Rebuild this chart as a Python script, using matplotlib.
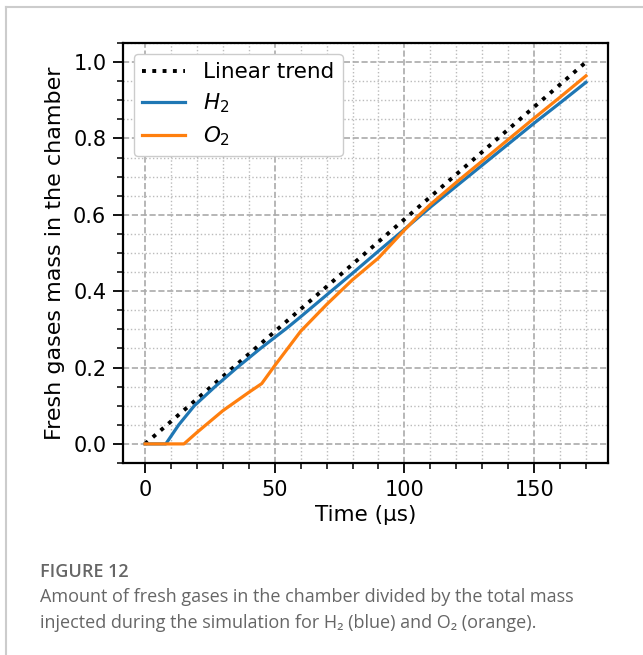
import numpy as np
import matplotlib
matplotlib.use('Agg')
import matplotlib.pyplot as plt
from matplotlib.ticker import MultipleLocator
from matplotlib.lines import Line2D

# values
trend_t = [0, 170]
trend_m = [0.0, 1.0]

h2_t = [0, 8, 13, 19, 27, 35.5, 44.5, 55, 60, 70, 80, 90, 100, 110, 120, 130, 140, 150, 160, 170]
h2_m = [0.0, 0.0, 0.05, 0.1, 0.15, 0.2, 0.25, 0.305, 0.333, 0.39, 0.447, 0.505, 0.562, 0.62, 0.675, 0.73, 0.785, 0.84, 0.893, 0.947]

o2_t = [0, 15, 20, 30, 40, 45, 50, 55, 60, 70, 80, 90, 100, 105, 110, 120, 130, 140, 150, 160, 170]
o2_m = [0.0, 0.0, 0.03, 0.087, 0.135, 0.158, 0.205, 0.25, 0.295, 0.365, 0.43, 0.487, 0.56, 0.595, 0.627, 0.685, 0.741, 0.797, 0.853, 0.908, 0.964]

fig = plt.figure(figsize=(6.43, 6.55), dpi=100)

# card frame lines (top and left)
fig.add_artist(Line2D([6/643, 1], [1 - 7/655, 1 - 7/655], color='#cccccc', lw=1.5))
fig.add_artist(Line2D([6/643, 6/643], [0, 1 - 7/655], color='#cccccc', lw=1.5))

ax = fig.add_axes([123/643, 1 - 463/655, 485/643, 420/655])

ax.plot(trend_t, trend_m, color='black', ls=':', lw=2.8, label='Linear trend')
ax.plot(h2_t, h2_m, color='#1f77b4', lw=2.3, label='$H_2$')
ax.plot(o2_t, o2_m, color='#ff7f0e', lw=2.3, label='$O_2$')

ax.set_xlim(-8.5, 178.5)
ax.set_ylim(-0.05, 1.05)
ax.xaxis.set_major_locator(MultipleLocator(50))
ax.xaxis.set_minor_locator(MultipleLocator(10))
ax.yaxis.set_major_locator(MultipleLocator(0.2))
ax.yaxis.set_minor_locator(MultipleLocator(0.05))
ax.grid(which='major', ls='--', color='#aaaaaa', lw=1.2)
ax.grid(which='minor', ls=':', color='#bbbbbb', lw=1.0)
ax.set_axisbelow(True)

ax.tick_params(which='major', length=7, width=1.3, labelsize=15, pad=5)
ax.tick_params(which='minor', length=4, width=1.1)
for s in ax.spines.values():
    s.set_linewidth(1.6)

ax.set_xlabel('Time (µs)', fontsize=15.5, labelpad=4)
ax.set_ylabel('Fresh gases mass in the chamber', fontsize=16, labelpad=6)

ax.legend(loc='upper left', fontsize=15.5, framealpha=1, edgecolor='#cccccc',
          handlelength=2.0, borderpad=0.4, labelspacing=0.42)

# caption
fig.text(40/643, 1 - 572/655, 'FIGURE 12', family='Open Sans', fontsize=13,
         color='#666666', weight='semibold', va='center')
fig.text(40/643, 1 - 597/655,
         'Amount of fresh gases in the chamber divided by the total mass',
         family=['Open Sans', 'DejaVu Sans'], fontsize=13, color='#666666', va='center')
fig.text(40/643, 1 - 623/655,
         'injected during the simulation for H\u2082 (blue) and O\u2082 (orange).',
         family=['Open Sans', 'DejaVu Sans'], fontsize=13, color='#666666', va='center')

fig.savefig('out.png', dpi=100)
